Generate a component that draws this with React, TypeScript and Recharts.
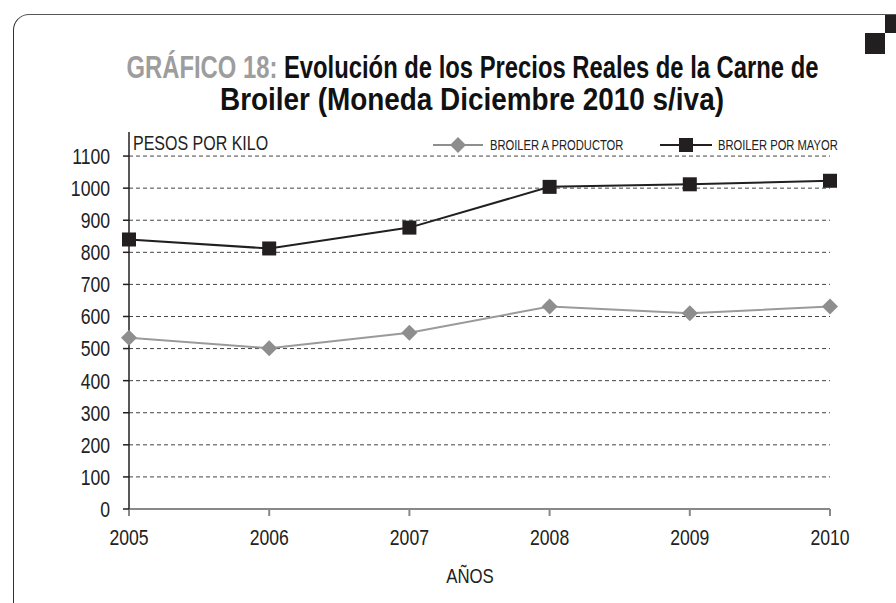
import { LineChart, Line, XAxis, YAxis, ReferenceLine } from 'recharts';

const YEARS = [2005, 2006, 2007, 2008, 2009, 2010];
const PRODUCTOR = [534, 501, 549, 631, 610, 631];
const MAYOR = [840, 812, 877, 1004, 1012, 1023];
const Y_TICKS = [0, 100, 200, 300, 400, 500, 600, 700, 800, 900, 1000, 1100];

const FONT = '"Liberation Sans", Arial, sans-serif';
const SQUEEZE = 0.8; // no condensed font installed, so narrow the glyphs by hand
const BLACK = '#231f20';
const GREY = '#8e8e8e';

const data = YEARS.map((year, i) => ({
  year,
  productor: PRODUCTOR[i],
  mayor: MAYOR[i],
}));

const SquareDot = (props: any) => {
  const { cx, cy } = props;
  if (cx == null || cy == null) return null;
  return <rect x={cx - 7} y={cy - 7} width={14} height={14} fill={BLACK} />;
};

const DiamondDot = (props: any) => {
  const { cx, cy } = props;
  if (cx == null || cy == null) return null;
  return (
    <polygon
      points={`${cx},${cy - 8} ${cx + 8},${cy} ${cx},${cy + 8} ${cx - 8},${cy}`}
      fill={GREY}
    />
  );
};

const NarrowText = ({ x, y, anchor, dy, size, children }: any) => (
  <text
    transform={`translate(${x},${y}) scale(${SQUEEZE},1)`}
    textAnchor={anchor}
    dy={dy}
    fontSize={size}
    fontFamily={FONT}
    fill="#222"
  >
    {children}
  </text>
);

const XTick = (props: any) => (
  <NarrowText x={props.x} y={props.y} anchor="middle" dy="0.71em" size={22}>
    {props.payload.value}
  </NarrowText>
);

const YTick = (props: any) => (
  <NarrowText x={props.x} y={props.y} anchor="end" dy="0.36em" size={22}>
    {props.payload.value}
  </NarrowText>
);

const LegendBox = () => (
  <svg width={430} height={20} style={{ position: 'absolute', left: 433, top: 135 }}>
    <line x1={0} y1={10} x2={50} y2={10} stroke={GREY} strokeWidth={2} />
    <polygon points="25,2 33,10 25,18 17,10" fill={GREY} />
    <NarrowText x={57} y={10} anchor="start" dy="0.36em" size={14}>BROILER A PRODUCTOR</NarrowText>
    <line x1={227} y1={10} x2={279} y2={10} stroke={BLACK} strokeWidth={2} />
    <rect x={246} y={3} width={14} height={14} fill={BLACK} />
    <NarrowText x={285} y={10} anchor="start" dy="0.36em" size={14}>BROILER POR MAYOR</NarrowText>
  </svg>
);

const TitleLine = ({ scale, children }: any) => (
  <div style={{ display: 'flex', justifyContent: 'center', height: 32 }}>
    <span
      style={{
        display: 'inline-block',
        whiteSpace: 'nowrap',
        transform: `scaleX(${scale})`,
        transformOrigin: 'center',
        flexShrink: 0,
      }}
    >
      {children}
    </span>
  </div>
);

export default function App() {
  return (
    <div style={{ position: 'relative', width: 896, height: 603, background: '#fff', overflow: 'hidden' }}>
      <style>{`body{margin:0}`}</style>
      {/* panel frame */}
      <div
        style={{
          position: 'absolute',
          left: 13,
          top: 14,
          width: 900,
          height: 620,
          borderTop: '1.5px solid #555',
          borderLeft: '1.5px solid #333',
          borderTopLeftRadius: 16,
          borderBottomLeftRadius: 16,
          boxSizing: 'border-box',
        }}
      />
      <div style={{ position: 'absolute', left: 885, top: 15, width: 11, height: 18, background: BLACK }} />
      <div style={{ position: 'absolute', left: 865, top: 33, width: 20, height: 21, background: BLACK }} />

      {/* title */}
      <div
        style={{
          position: 'absolute',
          left: 72,
          width: 800,
          top: 52,
          fontFamily: FONT,
          fontWeight: 'bold',
          fontSize: 31,
          lineHeight: '32px',
          color: '#111',
        }}
      >
        <TitleLine scale={0.768}>
          <span style={{ color: '#9d9d9d' }}>GRÁFICO 18: </span>
          Evolución de los Precios Reales de la Carne de
        </TitleLine>
        <TitleLine scale={0.9}>Broiler (Moneda Diciembre 2010 s/iva)</TitleLine>
      </div>

      <div style={{ position: 'absolute', left: 0, top: 0 }}>
        <LineChart width={896} height={603} data={data} margin={{ top: 132, right: 66, bottom: 19, left: 69 }}>
          {/* dashed gridlines only at the labelled ticks */}
          {Y_TICKS.filter((t) => t > 0).map((t) => (
            <ReferenceLine key={t} y={t} stroke="#444" strokeDasharray="4 3" />
          ))}
          <XAxis
            dataKey="year"
            type="number"
            domain={[2005, 2010]}
            ticks={YEARS}
            height={75}
            tickSize={7}
            tickMargin={13}
            stroke="#888"
            strokeWidth={2}
            tick={<XTick />}
          />
          <YAxis
            width={60}
            domain={[0, 1175]}
            ticks={Y_TICKS}
            tickSize={6}
            tickMargin={13}
            stroke={BLACK}
            strokeWidth={1.5}
            tick={<YTick />}
          />
          <Line
            dataKey="productor"
            name="BROILER A PRODUCTOR"
            stroke="#9a9a9a"
            strokeWidth={2}
            dot={<DiamondDot />}
            isAnimationActive={false}
          />
          <Line
            dataKey="mayor"
            name="BROILER POR MAYOR"
            stroke={BLACK}
            strokeWidth={2}
            dot={<SquareDot />}
            isAnimationActive={false}
          />
        </LineChart>
      </div>

      <LegendBox />

      {/* axis titles */}
      <div
        style={{
          position: 'absolute',
          left: 133,
          top: 131,
          fontFamily: FONT,
          fontSize: 20,
          lineHeight: '24px',
          color: '#222',
          whiteSpace: 'nowrap',
          transform: `scaleX(${SQUEEZE})`,
          transformOrigin: 'left',
        }}
      >
        PESOS POR KILO
      </div>
      <div
        style={{
          position: 'absolute',
          left: 370,
          width: 200,
          top: 563,
          textAlign: 'center',
          fontFamily: FONT,
          fontSize: 21,
          lineHeight: '26px',
          color: '#222',
          transform: `scaleX(${SQUEEZE})`,
        }}
      >
        AÑOS
      </div>
    </div>
  );
}
